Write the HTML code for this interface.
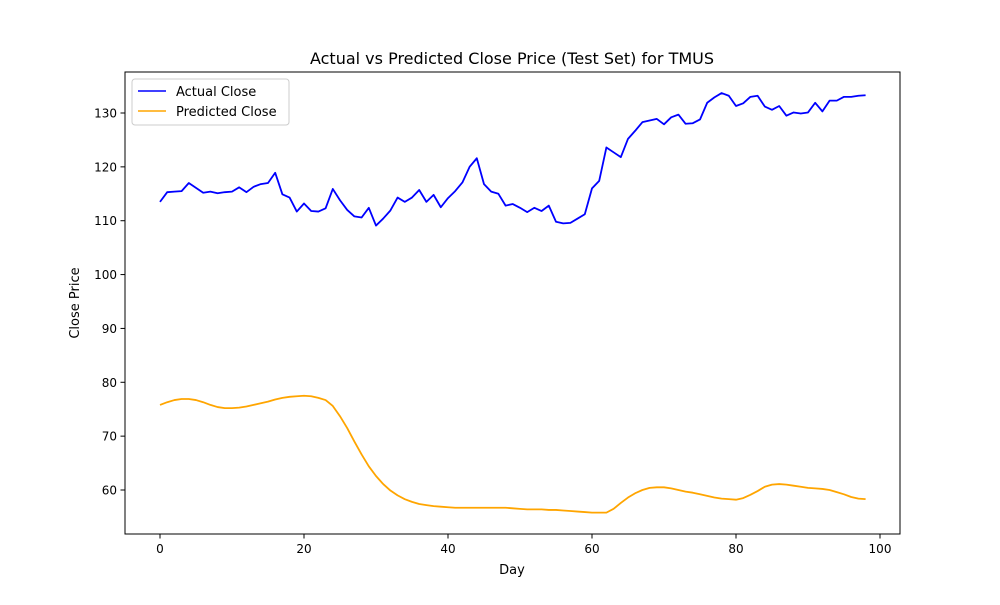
<!DOCTYPE html>
<html><head><meta charset="utf-8"><style>
body{margin:0;background:#fff;font-family:"Liberation Sans","DejaVu Sans",sans-serif}
svg text{font-family:"DejaVu Sans","Liberation Sans",sans-serif;fill:#000}
</style></head><body>
<svg id="chart" width="1000" height="600" xmlns="http://www.w3.org/2000/svg">
<rect width="1000" height="600" fill="#fff"/>
<text x="512" y="64" font-size="16" text-anchor="middle">Actual vs Predicted Close Price (Test Set) for TMUS</text>
<text x="512" y="574" font-size="13" text-anchor="middle">Day</text>
<text x="79" y="303" font-size="13" text-anchor="middle" transform="rotate(-90 79 303)">Close Price</text>
<g id="grid"></g>
<g id="series"></g>
<rect x="125" y="72" width="775" height="462" fill="none" stroke="#000" stroke-width="1"/>
<g>
<rect x="132" y="79" width="157" height="46" rx="3" fill="#fff" stroke="#ccc"/>
<line x1="138" y1="91" x2="166" y2="91" stroke="#0000ff" stroke-width="1.5"/>
<text x="176" y="96" font-size="13">Actual Close</text>
<line x1="138" y1="111" x2="166" y2="111" stroke="#ffa500" stroke-width="1.5"/>
<text x="176" y="116" font-size="13">Predicted Close</text>
</g>
</svg>
<script>
const actual=[113.5,115.3,115.4,115.5,117.0,116.1,115.2,115.4,115.1,115.3,115.4,116.2,115.3,116.3,116.8,117.0,118.9,114.9,114.3,111.7,113.2,111.8,111.7,112.3,115.9,113.8,112.0,110.8,110.6,112.4,109.1,110.4,111.9,114.3,113.5,114.3,115.7,113.5,114.8,112.5,114.2,115.5,117.1,120.0,121.6,116.8,115.4,115.0,112.8,113.1,112.4,111.6,112.4,111.8,112.8,109.8,109.5,109.6,110.4,111.2,116.0,117.4,123.6,122.7,121.8,125.2,126.7,128.3,128.6,128.9,127.9,129.2,129.7,128.0,128.1,128.8,131.9,132.9,133.7,133.2,131.3,131.8,133.0,133.2,131.2,130.6,131.3,129.5,130.1,129.9,130.1,131.9,130.3,132.3,132.3,133.0,133.0,133.2,133.3];
const predicted=[75.8,76.3,76.7,76.9,76.9,76.7,76.3,75.8,75.4,75.2,75.2,75.3,75.5,75.8,76.1,76.4,76.8,77.1,77.3,77.4,77.5,77.4,77.1,76.7,75.6,73.7,71.5,69.0,66.6,64.4,62.6,61.1,59.9,59.0,58.3,57.8,57.4,57.2,57.0,56.9,56.8,56.7,56.7,56.7,56.7,56.7,56.7,56.7,56.7,56.6,56.5,56.4,56.4,56.4,56.3,56.3,56.2,56.1,56.0,55.9,55.8,55.8,55.8,56.5,57.6,58.6,59.4,60.0,60.4,60.5,60.5,60.3,60.0,59.7,59.5,59.2,58.9,58.6,58.4,58.3,58.2,58.5,59.1,59.8,60.6,61.0,61.1,61.0,60.8,60.6,60.4,60.3,60.2,60.0,59.6,59.2,58.7,58.4,58.3];
const xTicks=[0,20,40,60,80,100];
const yTicks=[60,70,80,90,100,110,120,130];
const NS='http://www.w3.org/2000/svg';
const xs=d=>160+d*7.2;
const ys=v=>490-(v-60)*(377/70);
const grid=document.getElementById('grid'),series=document.getElementById('series');
function mk(tag,attrs,parent){const e=document.createElementNS(NS,tag);for(const k in attrs)e.setAttribute(k,attrs[k]);parent.appendChild(e);return e;}
xTicks.forEach(t=>{
 const l=mk('line',{x1:xs(t),x2:xs(t),y1:534,y2:538.5,stroke:'#000'},grid);
 
 
 const tx=mk('text',{x:xs(t),y:553,'font-size':12,'text-anchor':'middle'},grid);tx.textContent=t;
 
 
});
yTicks.forEach(t=>{
 const l=mk('line',{x1:120.5,x2:125,y1:ys(t),y2:ys(t),stroke:'#000'},grid);
 
 
 const tx=mk('text',{x:117,y:ys(t)+4.5,'font-size':12,'text-anchor':'end'},grid);tx.textContent=t;
 
 
});
function line(arr,color,name){
 const p=mk('polyline',{points:arr.map((v,i)=>xs(i)+','+ys(v)).join(' '),fill:'none',stroke:color,'stroke-width':1.8,'stroke-linejoin':'round'},series);
 
 
}
line(actual,'#0000ff','actual-close-line');
line(predicted,'#ffa500','predicted-close-line');
</script>
</body></html>
